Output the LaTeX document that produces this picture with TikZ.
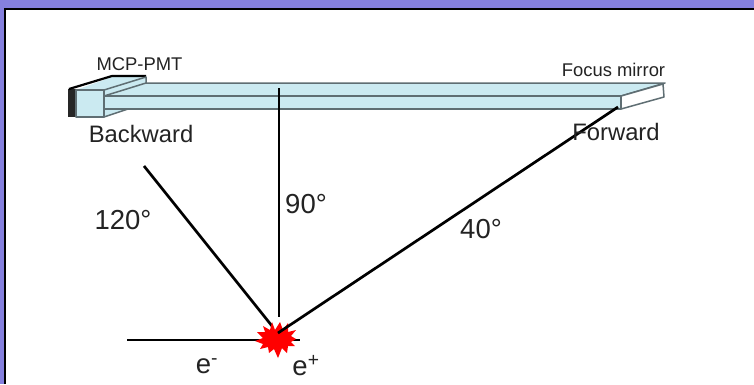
\documentclass[tikz,border=0pt]{standalone}
\usepackage{fontspec}
\setmainfont{Liberation Sans}
\definecolor{bgpurple}{RGB}{133,128,222}
\definecolor{pipe}{RGB}{203,234,241}
\definecolor{edgeg}{RGB}{95,110,115}
\definecolor{txt}{RGB}{35,35,35}
\tikzset{
  x=1pt,y=-1pt,
  ray/.style={draw=black,line width=2.7pt},
  part/.style={draw=edgeg,line width=1.5pt,fill=pipe,line join=round},
  lab/.style={inner sep=0pt,text=txt,anchor=center},
  small/.style={lab,font=\fontsize{18.4pt}{20pt}\selectfont},
  mid/.style={lab,font=\fontsize{23.8pt}{26pt}\selectfont},
  big/.style={lab,font=\fontsize{27.5pt}{30pt}\selectfont},
}
\begin{document}
\begin{tikzpicture}
\useasboundingbox (0,0) rectangle (754,384);
\fill[bgpurple] (0,0) rectangle (754,384);
\fill[white] (5,9) rectangle (754,384);
\draw[black,line width=2.6pt] (5,384) -- (5,9) -- (754,9);
% pipe
\draw[part] (100,83) -- (665,83) -- (621,96) -- (100,96) -- cycle;
\draw[part] (100,96) -- (621,96) -- (621,109) -- (100,109) -- cycle;
% photomultiplier
\fill[black!85] (68,89) -- (78,89) -- (78,117) -- (68,117) -- cycle;
\fill[pipe] (76,90) -- (112,77) -- (146,77) -- (104,90) -- cycle;
\draw[black,line width=2.2pt] (69,89) -- (112,76) -- (146,76);
\draw[part] (104,90) -- (146,77) -- (146,83) -- (104,96) -- cycle;
\draw[part] (104,109) -- (128,109) -- (104,117) -- cycle;
\draw[part] (76,90) -- (104,90) -- (104,117) -- (76,117) -- cycle;
% mirror
\draw[draw=edgeg,line width=1.5pt,fill=white,line join=round] (621,96) -- (663,84) -- (664,97) -- (621,109) -- cycle;
% rays
\coordinate (ip) at (278,333);
\coordinate (beam) at (127,340);
\coordinate (beamend) at (300,340);
\coordinate (a120) at (144,166);
\coordinate (a90) at (279,88);
\coordinate (a90e) at (279,317);
\coordinate (a40) at (618,107);
\coordinate (a120e) at (272,326);
\draw[ray] (beam) -- (beamend);
\draw[ray] (a120) -- (a120e);
\draw[ray] (a90) -- (a90e);
% burst
\fill[red] (272,322)
 -- (275,330) -- (280,322) -- (283,330) -- (288,323) -- (288,332) -- (296,330) -- (291,336)
 -- (296,339) -- (291,342) -- (295,346) -- (288,346) -- (287,353) -- (282,348) -- (278,358)
 -- (274,349) -- (269,353) -- (268,347) -- (260,349) -- (263,344) -- (255,341) -- (263,338)
 -- (257,332) -- (265,332) -- (263,326) -- (270,330) -- cycle;
\draw[ray] (a40) -- (ip);
% labels
\node[small] (mcp) at (139.5,64) {MCP-PMT};
\node[small] (focus) at (613.5,70) {Focus mirror};
\node[mid] (back) at (141,134) {Backward};
\node[mid] (forw) at (616,132) {Forward};
\node[big] (l120) at (123,220) {120°};
\node[big] (l90) at (306,204) {90°};
\node[big] (l40) at (481,229) {40°};
\node[big] (em) at (207,366) {e\textsuperscript{-}};
\node[big] (ep) at (306,366) {e\textsuperscript{+}};
\end{tikzpicture}
\end{document}
